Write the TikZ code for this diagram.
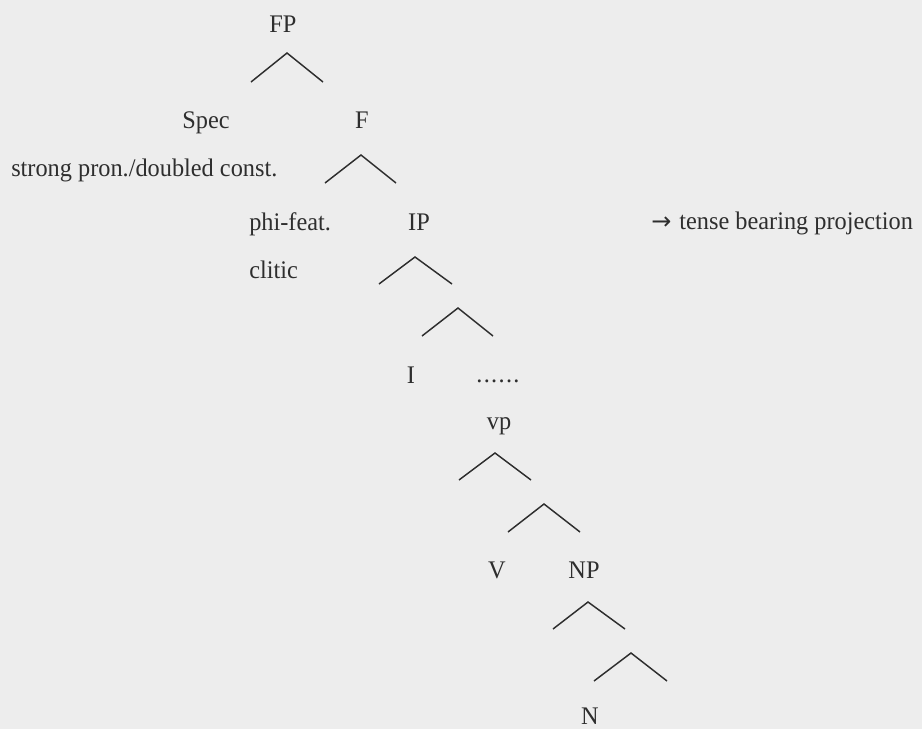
\documentclass[tikz,border=0pt]{standalone}
\usepackage{fontspec}
\setmainfont[FakeStretch=0.96]{Liberation Serif}
\newfontfamily\arrowfont{DejaVu Sans}
\definecolor{bg}{HTML}{EDEDED}
\definecolor{ink}{HTML}{2E2E2E}
\begin{document}
\begin{tikzpicture}[x=0.75pt,y=-0.75pt,
  lbl/.style={inner sep=0pt,anchor=base,text=ink,font=\fontsize{19pt}{22pt}\selectfont},
  lblw/.style={lbl,anchor=base west},
  branch/.style={draw=ink,line width=1.1pt,line join=miter}]
\fill[bg] (0,0) rectangle (922,729);
\useasboundingbox (0,0) rectangle (922,729);
% labels
\node[lbl] (FP) at (283,32) {FP};
\node[lbl] (Spec) at (206,128) {Spec};
\node[lbl] (F) at (362,128) {F};
\node[lblw] (strong) at (11,176) {strong pron./doubled const.};
\node[lblw] (phi) at (249,230) {phi-feat.};
\node[lbl] (IP) at (419,230) {IP};
\node[lblw] (tense) at (651,229) {{\arrowfont\fontsize{18pt}{22pt}\selectfont →}\kern6pt tense bearing projection};
\node[lblw] (clitic) at (249,278) {clitic};
\node[lbl] (I) at (411,383) {I};
\node[lbl] (dots) at (498,382) {.\kern1pt.\kern1pt.\kern1pt.\kern1pt.\kern1pt.};
\node[lbl] (vp) at (499,429) {vp};
\node[lbl] (V) at (497,578) {V};
\node[lbl] (NP) at (584,578) {NP};
\node[lbl] (N) at (590,724) {N};
% branches
\draw[branch] (251,82) -- (287,53) -- (323,82);
\draw[branch] (325,183) -- (361,155) -- (396,183);
\draw[branch] (379,284) -- (415,257) -- (452,284);
\draw[branch] (422,336) -- (458,308) -- (493,336);
\draw[branch] (459,480) -- (495,453) -- (531,480);
\draw[branch] (508,532) -- (544,504) -- (580,532);
\draw[branch] (553,629) -- (588,602) -- (625,629);
\draw[branch] (594,681) -- (631,653) -- (667,681);
\end{tikzpicture}
\end{document}
